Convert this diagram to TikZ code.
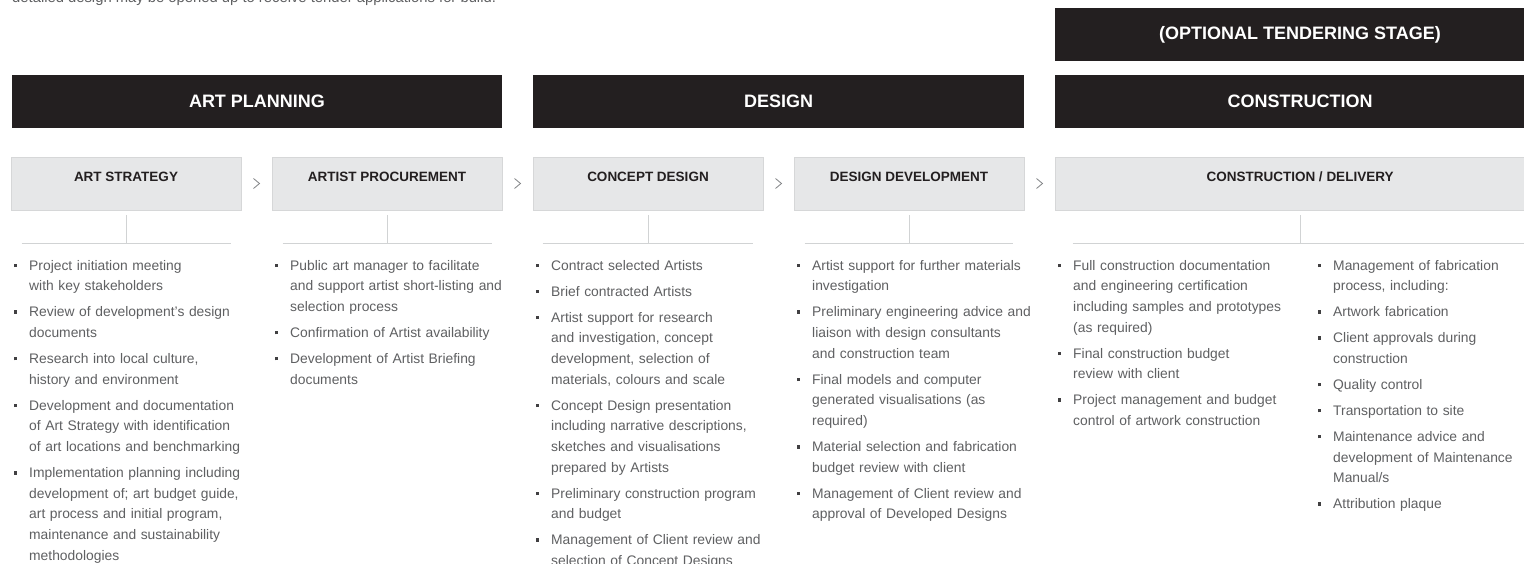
\documentclass[tikz,border=0pt]{standalone}
\usepackage{fontspec}
\setmainfont{Liberation Sans}
\usetikzlibrary{calc}

\definecolor{barfill}{HTML}{231F20}
\definecolor{boxfill}{HTML}{E6E7E8}
\definecolor{boxedge}{HTML}{D6D7D8}
\definecolor{rulec}{HTML}{D1D3D4}
\definecolor{bodyc}{HTML}{5F6062}
\definecolor{headc}{HTML}{231F20}
\definecolor{chevc}{HTML}{808285}
\definecolor{bulc}{HTML}{414042}

% one bullet point: square bullet hung in the left margin, trailing gap
\newcommand\bitem[1]{\noindent\llap{\textcolor{bulc}{\rule[3bp]{3.5bp}{3.5bp}}\hspace{12bp}}#1\par\vspace{5.3bp}}

\tikzset{
  phasebar/.style={fill=barfill, draw=none, inner sep=0, minimum height=53bp,
    text=white, font=\bfseries\fontsize{18bp}{18bp}\selectfont},
  stagebox/.style={fill=boxfill, draw=boxedge, line width=0.8bp, inner sep=0,
    minimum height=53bp},
  stagehead/.style={anchor=base, inner sep=0, text=headc,
    font=\bfseries\fontsize{13.5bp}{14bp}\selectfont},
  tree/.style={draw=rulec, line width=0.8bp},
  chevron/.style={draw=chevc, line width=0.8bp},
  bodytext/.style={anchor=base west, inner sep=0, text width=250bp, text=bodyc,
    font=\fontsize{13.85bp}{20.7bp}\selectfont},
}

\begin{document}
\begin{tikzpicture}[x=1bp,y=-1bp]
\useasboundingbox (0,0) rectangle (1524,564);
\clip (0,0) rectangle (1524,564);
\fill[white] (0,0) rectangle (1524,564);

% intro sentence, cut by the top edge
\node[anchor=base west, inner sep=0, text=bodyc,
  font=\fontsize{14.8bp}{16bp}\selectfont] (intro) at (12,3)
  {detailed design may be opened up to receive tender applications for build.};

% phase bars
\node[phasebar, minimum width=490bp] (tender) at (1300,34.5) {(OPTIONAL TENDERING STAGE)};
\node[phasebar, minimum width=490bp] (planning) at (257,101.5) {ART PLANNING};
\node[phasebar, minimum width=491bp] (design) at (778.5,101.5) {DESIGN};
\node[phasebar, minimum width=490bp] (construction) at (1300,101.5) {CONSTRUCTION};

% stage boxes
\node[stagebox, minimum width=230bp] (s1) at (126,183.5) {};
\node[stagebox, minimum width=230bp] (s2) at (387,183.5) {};
\node[stagebox, minimum width=230bp] (s3) at (648,183.5) {};
\node[stagebox, minimum width=230bp] (s4) at (909,183.5) {};
\node[stagebox, minimum width=490bp] (s5) at (1300,183.5) {};

\node[stagehead] (h1) at ($(s1.north)+(0,24.7)$) {ART STRATEGY};
\node[stagehead] (h2) at ($(s2.north)+(0,24.7)$) {ARTIST PROCUREMENT};
\node[stagehead] (h3) at ($(s3.north)+(0,24.7)$) {CONCEPT DESIGN};
\node[stagehead] (h4) at ($(s4.north)+(0,24.7)$) {DESIGN DEVELOPMENT};
\node[stagehead] (h5) at ($(s5.north)+(0,24.7)$) {CONSTRUCTION / DELIVERY};

% chevrons between consecutive stages
\foreach \a/\b in {s1/s2, s2/s3, s3/s4, s4/s5}{
  \coordinate (m) at ($(\a.east)!0.5!(\b.west)$);
  \draw[chevron] ($(m)+(-3,-5)$) -- ($(m)+(3,0)$) -- ($(m)+(-3,5)$);
}

% stems and rules under each stage
\foreach \s in {s1,s2,s3,s4,s5}{
  \draw[tree] ($(\s.south)+(0,5)$) -- ($(\s.south)+(0,33)$);
}
\draw[tree] ($(s1.south west)+(11,33)$) -- ($(s1.south east)+(-10,33)$);
\draw[tree] ($(s2.south west)+(11,33)$) -- ($(s2.south east)+(-10,33)$);
\draw[tree] ($(s3.south west)+(10,33)$) -- ($(s3.south east)+(-10,33)$);
\draw[tree] ($(s4.south west)+(11,33)$) -- ($(s4.south east)+(-11,33)$);
\draw[tree] ($(s5.south west)+(18,33)$) -- ($(s5.south east)+(0,33)$);

% task lists
\node[bodytext] (c1) at (29,270) {\raggedright
\bitem{Project initiation meeting\newline with key stakeholders}
\bitem{Review of development’s design\newline documents}
\bitem{Research into local culture,\newline history and environment}
\bitem{Development and documentation\newline of Art Strategy with identification\newline of art locations and benchmarking}
\bitem{Implementation planning including\newline development of; art budget guide,\newline art process and initial program,\newline maintenance and sustainability\newline methodologies}};

\node[bodytext] (c2) at (290,270) {\raggedright
\bitem{Public art manager to facilitate\newline and support artist short-listing and\newline selection process}
\bitem{Confirmation of Artist availability}
\bitem{Development of Artist Briefing\newline documents}};

\node[bodytext] (c3) at (551,270) {\raggedright
\bitem{Contract selected Artists}
\bitem{Brief contracted Artists}
\bitem{Artist support for research\newline and investigation, concept\newline development, selection of\newline materials, colours and scale}
\bitem{Concept Design presentation\newline including narrative descriptions,\newline sketches and visualisations\newline prepared by Artists}
\bitem{Preliminary construction program\newline and budget}
\bitem{Management of Client review and\newline selection of Concept Designs}};

\node[bodytext] (c4) at (812,270) {\raggedright
\bitem{Artist support for further materials\newline investigation}
\bitem{Preliminary engineering advice and\newline liaison with design consultants\newline and construction team}
\bitem{Final models and computer\newline generated visualisations (as\newline required)}
\bitem{Material selection and fabrication\newline budget review with client}
\bitem{Management of Client review and\newline approval of Developed Designs}};

\node[bodytext] (c5) at (1073,270) {\raggedright
\bitem{Full construction documentation\newline and engineering certification\newline including samples and prototypes\newline (as required)}
\bitem{Final construction budget\newline review with client}
\bitem{Project management and budget\newline control of artwork construction}};

\node[bodytext] (c6) at (1333,270) {\raggedright
\bitem{Management of fabrication\newline process, including:}
\bitem{Artwork fabrication}
\bitem{Client approvals during\newline construction}
\bitem{Quality control}
\bitem{Transportation to site}
\bitem{Maintenance advice and\newline development of Maintenance\newline Manual/s}
\bitem{Attribution plaque}};
\end{tikzpicture}
\end{document}
